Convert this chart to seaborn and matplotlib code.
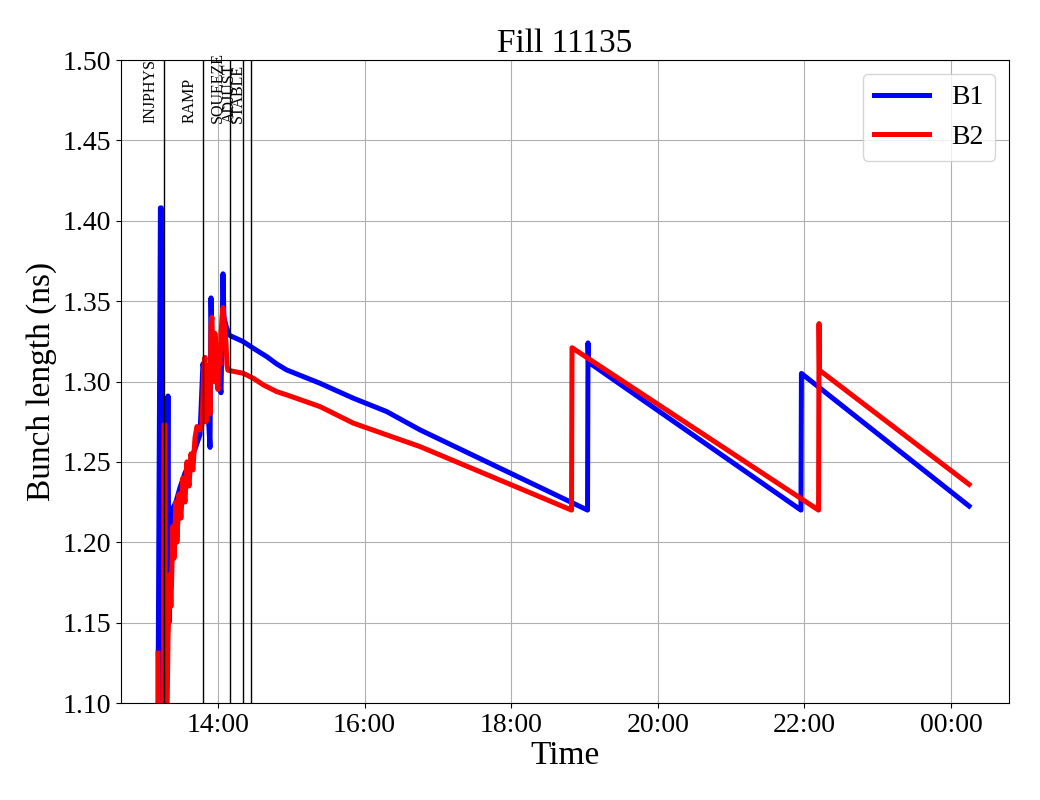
import numpy as np
import pandas as pd
import matplotlib
matplotlib.use("Agg")
import matplotlib.pyplot as plt
import matplotlib.dates as mdates
import matplotlib.transforms as mtransforms
import seaborn as sns

# ---- data (time in minutes after 13:00 of the fill day) ----
start_time = "2025-09-01 13:00:00"

b1_minutes = [10.9, 12.9, 13.7, 14.6, 17.4, 19.1, 19.9, 22.3, 25.6, 28.9, 33.0, 37.1,
              41.2, 45.3, 47.7, 50.2, 52.6, 53.5, 54.3, 55.1, 57.5, 60.0, 62.5, 64.1,
              64.9, 66.5, 69.0, 71.5, 80.7, 88.9, 99.9, 108.1, 116.2, 143.5, 170.8,
              198.1, 225.4, 362.5, 362.9, 363.3, 537.2, 537.6, 674.8]
b1_length = [1.09, 1.408, 1.408, 1.09, 1.09, 1.291, 1.15, 1.22, 1.225, 1.234, 1.243, 1.25,
             1.258, 1.267, 1.311, 1.30, 1.272, 1.259, 1.352, 1.32, 1.31, 1.305, 1.293, 1.367,
             1.34, 1.335, 1.329, 1.328, 1.3248, 1.3207, 1.3155, 1.3109, 1.3072, 1.2989, 1.2896,
             1.2813, 1.2699, 1.220, 1.324, 1.312, 1.220, 1.305, 1.2225]

b2_minutes = [10.9, 11.3, 15.4, 15.8, 16.6, 17.0, 18.3, 19.1, 20.7, 21.5, 23.2, 24.0,
              25.6, 26.4, 28.1, 29.7, 31.3, 33.0, 34.6, 36.3, 37.9, 39.5, 41.2, 42.8,
              45.3, 46.9, 47.7, 48.5, 49.4, 50.2, 51.0, 52.6, 53.5, 54.3, 55.1, 55.9,
              56.7, 57.5, 58.4, 59.2, 60.0, 60.8, 61.6, 62.5, 64.1, 64.9, 65.7, 66.5,
              67.4, 68.2, 80.7, 88.9, 97.1, 108.1, 116.2, 143.5, 170.8, 198.1, 225.4,
              349.4, 349.8, 551.6, 552.0, 552.4, 674.8]
b2_length = [1.131, 1.09, 1.09, 1.273, 1.273, 1.09, 1.09, 1.14, 1.18, 1.16, 1.21, 1.19,
             1.225, 1.20, 1.23, 1.215, 1.24, 1.225, 1.25, 1.235, 1.255, 1.245, 1.265, 1.272,
             1.27, 1.273, 1.29, 1.31, 1.315, 1.275, 1.30, 1.31, 1.28, 1.335, 1.34, 1.31,
             1.30, 1.33, 1.32, 1.30, 1.295, 1.32, 1.31, 1.33, 1.346, 1.34, 1.33, 1.325,
             1.31, 1.307, 1.3051, 1.3020, 1.2979, 1.2937, 1.2917, 1.2844, 1.2741, 1.2668, 1.2595,
             1.220, 1.321, 1.220, 1.336, 1.307, 1.236]

mode_names = ["INJPHYS", "RAMP", "SQUEEZE", "ADJUST", "STABLE"]
mode_minutes = [15.8, 47.7, 69.8, 80.5, 87.0]

beam_names = ["B1", "B2"]
beam_colors = ["blue", "red"]

title = "Fill 11135"
x_label = "Time"
y_label = "Bunch length (ns)"
y_ticks = [1.10, 1.15, 1.20, 1.25, 1.30, 1.35, 1.40, 1.45, 1.50]

# ---- build frame ----
t0 = pd.Timestamp(start_time)
def to_time(mins):
    return [t0 + pd.Timedelta(minutes=m) for m in mins]

df = pd.concat([
    pd.DataFrame({"time": to_time(b1_minutes), "length": b1_length, "beam": "B1"}),
    pd.DataFrame({"time": to_time(b2_minutes), "length": b2_length, "beam": "B2"}),
], ignore_index=True)

plt.rcParams["font.family"] = ["Liberation Serif", "DejaVu Serif"]
plt.rcParams["mathtext.fontset"] = "stix"

fig = plt.figure(figsize=(10.4, 8), dpi=100)
ax = fig.add_axes([0.1163, 0.12125, 0.8539, 0.80375])

sns.lineplot(data=df, x="time", y="length", hue="beam", hue_order=beam_names,
             palette=dict(zip(beam_names, beam_colors)), estimator=None, sort=False,
             linewidth=3.6, ax=ax)

# mode lines
text_tr = mtransforms.offset_copy(ax.transData, fig=fig, x=-5, y=0, units="dots")
for name, m in zip(mode_names, mode_minutes):
    t = t0 + pd.Timedelta(minutes=m)
    ax.axvline(t, color="black", linewidth=1.0, zorder=3)
    ax.text(mdates.date2num(t), 1.4605, name, rotation=90, ha="right", va="bottom",
            fontsize=11.5, transform=text_tr)

ax.set_xlim(t0 + pd.Timedelta(minutes=-19.4), t0 + pd.Timedelta(minutes=707.5))
ax.set_ylim(1.10, 1.50)
ax.set_yticks(y_ticks)
ax.yaxis.set_major_formatter(matplotlib.ticker.FormatStrFormatter("%.2f"))
ax.xaxis.set_major_locator(mdates.HourLocator(byhour=range(0, 24, 2)))
ax.xaxis.set_major_formatter(mdates.DateFormatter("%H:%M"))
ax.tick_params(labelsize=20)
ax.grid(True, color="#b0b0b0", linewidth=0.8)
ax.set_axisbelow(True)

ax.set_title(title, fontsize=24)
ax.set_xlabel(x_label, fontsize=24, labelpad=2)
ax.set_ylabel(y_label, fontsize=24)

leg = ax.legend(loc="upper right", fontsize=20, title=None)
for line in leg.get_lines():
    line.set_linewidth(3.6)

fig.savefig("out.png", dpi=100)
